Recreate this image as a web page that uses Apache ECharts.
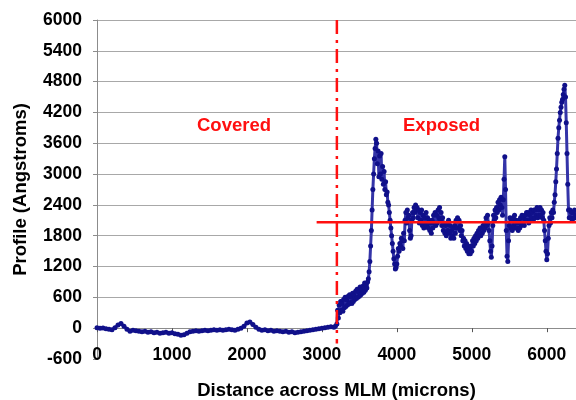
<!DOCTYPE html>
<html>
<head>
<meta charset="utf-8">
<script src="https://cdn.jsdelivr.net/npm/echarts@6/dist/echarts.min.js"></script>
<style>
html,body{margin:0;padding:0;background:#fff;}
#chart{width:576px;height:400px;}
</style>
</head>
<body>
<div id="chart"></div>
<script>
// Covered section: distance (microns) and profile (Angstroms)
var coveredMicrons = [
  0,40,80,120,160,200,240,280,320,360,400,440,480,520,560,600,640,680,720,760,
  800,840,880,920,960,1000,1040,1080,1120,1160,1200,1240,1280,1320,1360,1400,1440,1480,1520,1560,
  1600,1640,1680,1720,1760,1800,1840,1880,1920,1960,2000,2040,2080,2120,2160,2200,2240,2280,2320,2360,
  2400,2440,2480,2520,2560,2600,2640,2680,2720,2760,2800,2840,2880,2920,2960,3000,3040,3080,3120,3160,3180
];
var coveredAngstroms = [
  10,0,5,-10,-20,-30,10,60,90,40,-20,-60,-40,-50,-60,-70,-60,-80,-70,-90,
  -80,-100,-90,-80,-100,-90,-110,-120,-140,-130,-100,-70,-60,-50,-60,-50,-40,-50,-40,-30,
  -40,-30,-40,-30,-20,-30,-40,-20,0,40,100,120,70,20,-20,-40,-30,-50,-40,-60,
  -50,-60,-70,-60,-80,-70,-90,-80,-70,-60,-50,-40,-30,-20,-10,0,10,20,30,20,40
];
// Exposed section: distance (microns) and profile (Angstroms)
var exposedMicrons = [
  3200,3210,3220,3230,3240,3250,3260,3270,3280,3290,3300,3310,3320,3330,3340,3350,3360,3370,3380,3390,
  3400,3410,3420,3430,3440,3450,3460,3470,3480,3490,3500,3510,3520,3530,3540,3550,3560,3570,3580,3590,
  3600,3610,3620,3630,3640,3650,3660,3670,3680,3690,3700,3710,3720,3730,3740,3750,3760,3770,3780,3790,
  3800,3810,3820,3830,3840,3850,3860,3870,3880,3890,3900,3910,3920,3930,3940,3950,3960,3970,3980,3990,
  4000,4010,4020,4030,4040,4050,4060,4070,4080,4090,4100,4110,4120,4130,4140,4150,4160,4170,4180,4190,
  4200,4210,4220,4230,4240,4250,4260,4270,4280,4290,4300,4310,4320,4330,4340,4350,4360,4370,4380,4390,
  4400,4410,4420,4430,4440,4450,4460,4470,4480,4490,4500,4510,4520,4530,4540,4550,4560,4570,4580,4590,
  4600,4610,4620,4630,4640,4650,4660,4670,4680,4690,4700,4710,4720,4730,4740,4750,4760,4770,4780,4790,
  4800,4810,4820,4830,4840,4850,4860,4870,4880,4890,4900,4910,4920,4930,4940,4950,4960,4970,4980,4990,
  5000,5010,5020,5030,5040,5050,5060,5070,5080,5090,5100,5110,5120,5130,5140,5150,5160,5170,5180,5190,
  5200,5210,5220,5230,5240,5250,5260,5270,5280,5290,5300,5310,5320,5330,5340,5350,5360,5370,5380,5390,
  5400,5410,5420,5430,5440,5450,5460,5470,5480,5490,5500,5510,5520,5530,5540,5550,5560,5570,5580,5590,
  5600,5610,5620,5630,5640,5650,5660,5670,5680,5690,5700,5710,5720,5730,5740,5750,5760,5770,5780,5790,
  5800,5810,5820,5830,5840,5850,5860,5870,5880,5890,5900,5910,5920,5930,5940,5950,5960,5970,5980,5990,
  6000,6010,6020,6030,6040,6050,6060,6070,6080,6090,6100,6110,6120,6130,6140,6150,6160,6170,6180,6190,
  6200,6210,6220,6230,6240,6250,6260,6270,6280,6290,6300,6310,6320,6330,6340,6350,6360,6370,6380,6390
];
var exposedAngstroms = [
  80,350,200,450,300,520,350,480,330,560,400,600,420,550,450,620,470,650,500,600,
  480,680,520,640,560,720,580,760,600,700,620,800,650,750,680,820,700,880,740,850,
  780,900,960,1100,1300,1600,1900,2300,2700,3000,3300,3500,3680,3600,3200,3450,2950,3350,3000,3400,
  2900,3150,2800,3050,2700,2850,2600,2650,2450,2400,2250,2100,1950,1800,1650,1500,1350,1250,1150,1180,
  1250,1400,1550,1500,1650,1600,1750,1700,1550,1850,1700,2100,2250,2050,2300,2150,2200,1900,1750,1800,
  2100,2250,2150,2350,2250,2400,2300,2350,2150,2300,2050,2250,2100,2300,2000,2200,1950,2150,2050,2250,
  2000,2150,1950,2100,1900,2050,1850,2100,1950,2200,2050,2250,2000,2200,2050,2300,2150,2350,2100,2250,
  2000,2150,1900,2050,1850,2000,1800,2050,1900,2100,1850,2000,1750,1900,1800,1950,1750,2000,1850,2100,
  1950,2150,1950,2100,1900,2000,1800,1900,1700,1750,1600,1700,1550,1650,1500,1600,1450,1550,1450,1600,
  1500,1700,1600,1750,1650,1800,1700,1850,1750,1900,1800,1950,1800,1950,1850,2000,1900,2050,1950,2150,
  2000,2200,2050,1900,1700,1500,1380,1600,2000,2200,2100,2300,2150,2350,2250,2450,2300,2500,2400,2550,
  2350,2200,2500,2900,3340,2700,1900,1400,1300,1700,2000,2150,1950,2100,1900,2150,2000,2200,1950,2100,
  1950,2050,1900,2100,1950,2150,2000,2200,2050,2150,2000,2200,2100,2250,2100,2250,2050,2200,2100,2300,
  2150,2250,2100,2300,2150,2300,2200,2350,2150,2300,2200,2350,2200,2300,2150,2250,2100,1900,1700,1500,
  1330,1450,1750,2000,2150,2050,2250,2150,2300,2250,2450,2600,2850,3100,3400,3700,3900,4050,4200,4300,
  4400,4450,4550,4650,4730,4500,4000,3400,2800,2300,2150,2300,2150,2250,2100,2250,2150,2300,2150,2200
];
// Reference lines
var dividerX = [3200, 3200];
var dividerY = [6000, -300];
var meanLineX = [2930, 6400];
var meanLineY = [2060, 2060];
var yTicks = { min: -600, max: 6000, step: 600 };
var xTicks = { min: 0, max: 6390, step: 1000 };
var regionLabels = ['Covered', 'Exposed'];

function zip(a, b) { return a.map(function (v, i) { return [v, b[i]]; }); }
var profileData = zip(coveredMicrons, coveredAngstroms).concat(zip(exposedMicrons, exposedAngstroms));

var chart = echarts.init(document.getElementById('chart'), null, { renderer: 'canvas' });
var fontFam = '"Liberation Sans", Arial, sans-serif';
var gridColors = ['rgba(0,0,0,0)'];
for (var i = 0; i < 11; i++) gridColors.push('#a8a8a8');
function plain(v) { return String(v); }

chart.setOption({
  animation: false,
  backgroundColor: '#ffffff',
  grid: { left: 97, right: 0, top: 20, bottom: 41, containLabel: false, outerBoundsMode: 'none' },
  xAxis: [
    {
      type: 'value', min: xTicks.min, max: xTicks.max, interval: xTicks.step,
      axisLine: { show: true, onZero: true, lineStyle: { color: '#8c8c8c', width: 1 } },
      axisTick: { show: true, inside: false, length: 4, lineStyle: { color: '#555' } },
      axisLabel: { show: false },
      splitLine: { show: false }
    },
    {
      type: 'value', min: xTicks.min, max: xTicks.max, interval: xTicks.step,
      position: 'bottom', offset: -13,
      axisLine: { show: false, onZero: false },
      axisTick: { show: false },
      axisLabel: { show: true, margin: 0, color: '#000', fontWeight: 'bold', fontSize: 17.5, fontFamily: fontFam, showMaxLabel: false, formatter: plain },
      splitLine: { show: false },
      name: 'Distance across MLM (microns)', nameLocation: 'middle', nameGap: 35,
      nameTextStyle: { color: '#000', fontWeight: 'bold', fontSize: 18.5, fontFamily: fontFam }
    }
  ],
  yAxis: {
    type: 'value', min: yTicks.min, max: yTicks.max, interval: yTicks.step,
    axisLine: { show: true, lineStyle: { color: '#8c8c8c', width: 1 } },
    axisTick: { show: true, length: 4, lineStyle: { color: '#8c8c8c' } },
    axisLabel: { color: '#000', fontWeight: 'bold', fontSize: 17.5, fontFamily: fontFam, margin: 15, formatter: plain },
    splitLine: { show: true, lineStyle: { color: gridColors, width: 1 } },
    name: 'Profile (Angstroms)', nameLocation: 'middle', nameGap: 67, nameRotate: 90,
    nameTextStyle: { color: '#000', fontWeight: 'bold', fontSize: 18.5, fontFamily: fontFam }
  },
  graphic: [
    { type: 'text', left: 197, top: 116, style: { text: regionLabels[0], fill: '#ff1010', font: 'bold 18.5px ' + fontFam } },
    { type: 'text', left: 403, top: 116, style: { text: regionLabels[1], fill: '#ff1010', font: 'bold 18.5px ' + fontFam } }
  ],
  series: [
    {
      type: 'line', xAxisIndex: 0, data: profileData,
      symbol: 'circle', symbolSize: 5, showSymbol: true,
      itemStyle: { color: '#10108a' },
      lineStyle: { color: '#3434a8', width: 3 },
      z: 3
    },
    {
      type: 'line', xAxisIndex: 0, data: zip(dividerX, dividerY),
      symbol: 'none', lineStyle: { color: '#ff1010', width: 2.5, type: [14, 6, 3, 6] }, z: 4
    },
    {
      type: 'line', xAxisIndex: 0, data: zip(meanLineX, meanLineY),
      symbol: 'none', lineStyle: { color: '#ff1010', width: 2.5 }, z: 5
    }
  ]
});
</script>
</body>
</html>
